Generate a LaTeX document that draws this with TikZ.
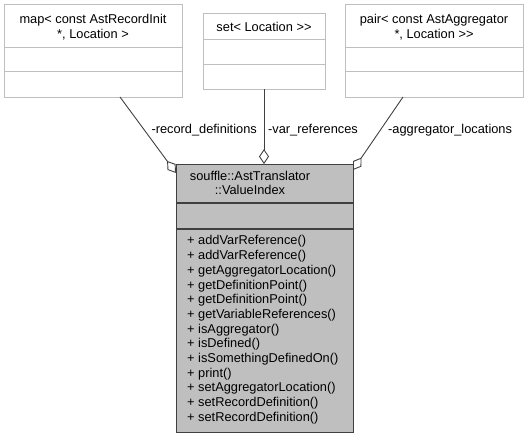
\documentclass[tikz,border=0pt]{standalone}
\usepackage{fontspec}
\setmainfont{Liberation Sans}[Ligatures=NoCommon]
\usetikzlibrary{arrows.meta}
\definecolor{boxgray}{HTML}{BFBFBF}
\definecolor{linegray}{HTML}{404040}
\begin{document}
\begin{tikzpicture}[x=1pt,y=-1pt,
  every node/.style={font=\fontsize{12.8}{14.7}\selectfont, inner sep=0pt, text=black},
  classbox/.style={draw=boxgray, line width=1pt, fill=white, rectangle, anchor=north west},
  mainbox/.style={draw=linegray, line width=1.3pt, fill=boxgray, rectangle, anchor=north west},
  assoc/.style={draw=linegray, line width=0.9pt, {Diamond[open,length=15pt,width=10pt]}-}]
\useasboundingbox (0,0) rectangle (528,437);
% top classes
\node[classbox, minimum width=178pt, minimum height=93pt] (rec) at (4,4) {};
\draw[boxgray, line width=1pt] (rec.west |- 0,47) -- (rec.east |- 0,47);
\draw[boxgray, line width=1pt] (rec.west |- 0,71) -- (rec.east |- 0,71);
\node[align=center] (rect) at (93,27) {map< const AstRecordInit\\*, Location >};

\node[classbox, minimum width=122pt, minimum height=76pt] (set) at (203,13) {};
\draw[boxgray, line width=1pt] (set.west |- 0,39) -- (set.east |- 0,39);
\draw[boxgray, line width=1pt] (set.west |- 0,64) -- (set.east |- 0,64);
\node (sett) at (264,27) {set< Location >{}>};

\node[classbox, minimum width=178pt, minimum height=93pt] (agg) at (345,4) {};
\draw[boxgray, line width=1pt] (agg.west |- 0,47) -- (agg.east |- 0,47);
\draw[boxgray, line width=1pt] (agg.west |- 0,71) -- (agg.east |- 0,71);
\node[align=center] (aggt) at (434,27) {pair< const AstAggregator\\*, Location >{}>};

% main class
\node[mainbox, minimum width=177pt, minimum height=268pt] (vi) at (176,164) {};
\draw[linegray, line width=1.3pt] (vi.west |- 0,203) -- (vi.east |- 0,203);
\draw[linegray, line width=1.3pt] (vi.west |- 0,229) -- (vi.east |- 0,229);
\node[align=center] (vit) at (250,183) {souffle::AstTranslator\\::ValueIndex};
\node[align=left, anchor=north west] (vim) at (187,235.5) {%
+ addVarReference()\\
+ addVarReference()\\
+ getAggregatorLocation()\\
+ getDefinitionPoint()\\
+ getDefinitionPoint()\\
+ getVariableReferences()\\
+ isAggregator()\\
+ isDefined()\\
+ isSomethingDefinedOn()\\
+ print()\\
+ setAggregatorLocation()\\
+ setRecordDefinition()\\
+ setRecordDefinition()};

% connectors
\coordinate (recEnd) at (120,97);
\coordinate (viL) at (176,173);
\coordinate (setEnd) at (264,89);
\coordinate (viT) at (264,164);
\coordinate (aggEnd) at (403,97);
\coordinate (viR) at (353,170);
\draw[assoc] (viL) -- (recEnd);
\draw[assoc] (viT) -- (setEnd);
\draw[assoc] (viR) -- (aggEnd);

\node[anchor=east] (l1) at (257,130) {-record\_definitions};
\node[anchor=west] (l2) at (268,130) {-var\_references};
\node[anchor=west] (l3) at (388,130) {-aggregator\_locations};
\end{tikzpicture}
\end{document}
